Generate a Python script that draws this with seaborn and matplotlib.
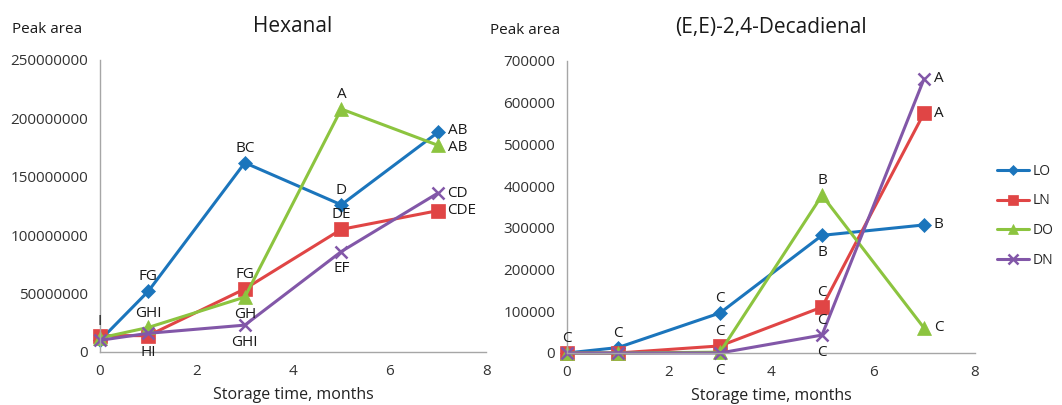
import matplotlib
matplotlib.use("Agg")
import matplotlib.pyplot as plt
import matplotlib.ticker as mticker
import pandas as pd
import seaborn as sns

# storage time (months) and sample groups
months = [0, 1, 3, 5, 7]
samples = ["LO", "LN", "DO", "DN"]

# Hexanal peak areas
hex_LO = [10000000, 52000000, 162000000, 126000000, 188000000]
hex_LN = [14000000, 14000000, 54000000, 105000000, 121000000]
hex_DO = [12000000, 21000000, 47000000, 208000000, 177000000]
hex_DN = [10000000, 16000000, 23000000, 86000000, 136000000]

# (E,E)-2,4-Decadienal peak areas
dec_LO = [0, 13000, 96000, 282000, 307000]
dec_LN = [0, 0, 17000, 110000, 575000]
dec_DO = [0, 0, 2000, 378000, 60000]
dec_DN = [0, 0, 0, 43000, 657000]

# significance letters: (sample, month index, letter, placement)
hex_letters = [
    ("LN", 0, "I", "above"), ("LO", 1, "FG", "above"), ("DO", 1, "GHI", "above"),
    ("LN", 1, "HI", "below"), ("LO", 2, "BC", "above"), ("LN", 2, "FG", "above"),
    ("DO", 2, "GH", "below"), ("DN", 2, "GHI", "below"), ("DO", 3, "A", "above"),
    ("LO", 3, "D", "above"), ("LN", 3, "DE", "above"), ("DN", 3, "EF", "below"),
    ("LO", 4, "AB", "right_up"), ("DO", 4, "AB", "right_down"), ("DN", 4, "CD", "right"),
    ("LN", 4, "CDE", "right"),
]
dec_letters = [
    ("LO", 0, "C", "above"), ("LO", 1, "C", "above"), ("LO", 2, "C", "above"),
    ("LN", 2, "C", "above"), ("DN", 2, "C", "below"), ("DO", 3, "B", "above"),
    ("LO", 3, "B", "below"), ("LN", 3, "C", "above"), ("DN", 3, "C", "above"),
    ("DN", 3, "C", "below"), ("DN", 4, "A", "right"), ("LN", 4, "A", "right"),
    ("LO", 4, "B", "right"), ("DO", 4, "C", "right"),
]

palette = {"LO": "#1b75bc", "LN": "#e04545", "DO": "#8cc43f", "DN": "#8257a8"}
markers = {"LO": "D", "LN": "s", "DO": "^", "DN": "x"}
msizes = {"LO": 7, "LN": 9.5, "DO": 9.5, "DN": 9}
offsets = {"above": (0, 5, "center", "bottom"),
           "below": (0, -7, "center", "top"),
           "right": (7, 0, "left", "center"),
           "right_up": (7, 1.5, "left", "center"),
           "right_down": (7, -1.5, "left", "center")}


def make_df(series):
    rows = []
    for s, vals in zip(samples, series):
        for m, v in zip(months, vals):
            rows.append({"month": m, "area": v, "sample": s})
    return pd.DataFrame(rows)


sns.set_style("white")
plt.rcParams["font.family"] = ["Open Sans", "DejaVu Sans"]

fig = plt.figure(figsize=(10.62, 4.05), dpi=100)
ax1 = fig.add_axes([0.0942, 0.1309, 0.3635, 0.721])
ax2 = fig.add_axes([0.5339, 0.1284, 0.3842, 0.7210])

panels = [
    (ax1, make_df([hex_LO, hex_LN, hex_DO, hex_DN]), hex_letters, "Hexanal",
     250000000, 50000000, -0.228),
    (ax2, make_df([dec_LO, dec_LN, dec_DO, dec_DN]), dec_letters,
     "(E,E)-2,4-Decadienal", 700000, 100000, -0.189),
]

for ax, df, letters, title, ymax, ystep, px in panels:
    for s in samples:
        d = df[df["sample"] == s]
        sns.lineplot(data=d, x="month", y="area", ax=ax, color=palette[s],
                     marker=markers[s], markersize=msizes[s], linewidth=2.2,
                     markeredgecolor=palette[s], markeredgewidth=1.8 if s == "DN" else 0.5,
                     label=s, legend=False)
    for s, i, txt, pos in letters:
        d = df[df["sample"] == s]
        dx, dy, ha, va = offsets[pos]
        ax.annotate(txt, (d["month"].iloc[i], d["area"].iloc[i]),
                    xytext=(dx, dy), textcoords="offset points",
                    ha=ha, va=va, fontsize=11, color="#1a1a1a")
    ax.set_xlim(0, 8)
    ax.set_ylim(0, ymax)
    ax.set_xticks(range(0, 9, 2))
    ax.set_yticks(range(0, ymax + 1, ystep))
    ax.yaxis.set_major_formatter(mticker.StrMethodFormatter("{x:.0f}"))
    ax.set_xlabel("Storage time, months", fontsize=11.5, color="#222222", labelpad=6)
    ax.set_ylabel("")
    ax.set_title(title, fontsize=15, color="#1a1a1a", pad=20)
    ax.text(px, 1.08, "Peak area", transform=ax.transAxes,
            fontsize=11, color="#1a1a1a", ha="left", va="bottom")
    for side in ["top", "right"]:
        ax.spines[side].set_visible(False)
    for side in ["left", "bottom"]:
        ax.spines[side].set_color("#a6a6a6")
        ax.spines[side].set_linewidth(1)
    ax.tick_params(axis="both", direction="out", length=5, width=1, color="#a6a6a6",
                   labelsize=11, labelcolor="#333333")
    for ln in ax.lines:
        ln.set_clip_on(False)

handles, labels = ax2.get_legend_handles_labels()
ax2.legend(handles, labels, loc="center left", bbox_to_anchor=(1.055, 0.47),
           frameon=False, fontsize=10, handlelength=2.3, labelspacing=1.05,
           handletextpad=0.2, markerscale=0.75, borderpad=0, borderaxespad=0)

fig.savefig("out.png", dpi=100, facecolor="white")
